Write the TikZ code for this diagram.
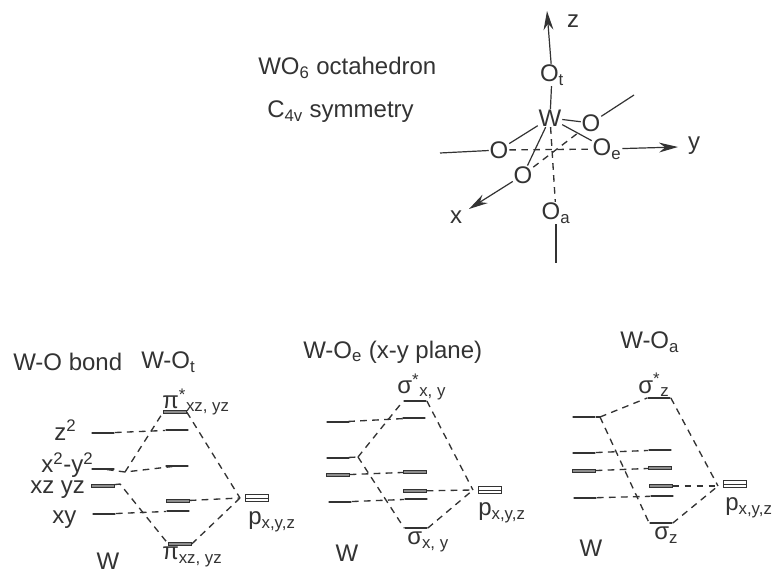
\documentclass[tikz,border=0pt]{standalone}
\usepackage{fontspec}
\setmainfont{Liberation Sans}
\usetikzlibrary{arrows.meta, positioning}

\begin{document}
\begin{tikzpicture}[
  x=0.75pt, y=-0.75pt,
  txt/.style={inner sep=0pt, font=\fontsize{18}{21}\selectfont, text=black!80},
  lbl/.style={txt, anchor=west},
  atom/.style={txt, inner sep=0.5pt},
  lvl/.style={draw=black!80, line width=0.8pt, inner sep=0pt, minimum width=17pt, minimum height=0pt},
  lvltwo/.style={lvl, minimum height=2.2pt, line width=0.6pt, fill=black!45},
  lvlthree/.style={lvl, minimum height=5.4pt, line width=0.6pt,
    path picture={\draw[line width=0.6pt] (path picture bounding box.west) -- (path picture bounding box.east);}},
  bond/.style={draw=black!80, line width=0.9pt},
  dsh/.style={draw=black!80, line width=1pt, dash pattern=on 5pt off 4pt},
  arr/.style={bond, -{Stealth[length=5mm, width=2.6mm]}}
]
  \useasboundingbox (0,0) rectangle (780,573);
  \fill[white] (0,0) rectangle (780,573);

  % octahedron
  \node[lbl] (name) at (258,68) {WO\textsubscript{6} octahedron};
  \node[lbl] (symm) at (267,112) {C\textsubscript{4v} symmetry};
  \node[atom] (W) at (550,118) {W};
  \node[atom] (Ot) at (552,75) {O\textsubscript{t}};
  \node[atom] (Oa) at (556,213) {O\textsubscript{a}};
  \node[atom] (Oe) at (607,149) {O\textsubscript{e}};
  \node[atom] (Ol) at (499,150) {O};
  \node[atom] (Of) at (523,175) {O};
  \node[atom] (Ob) at (591,123) {O};
  \node[atom] (z) at (573,21) {z};
  \node[atom] (y) at (694,146) {y};
  \node[atom] (x) at (456,217) {x};
  \coordinate (zend) at (547,11);
  \coordinate (yend) at (678,147);
  \coordinate (xend) at (469,209);
  \coordinate (lout) at (440,153);
  \coordinate (bout) at (634,95);
  \coordinate (aout) at (556,263);

  \draw[arr] (Ot) -- (zend);
  \draw[arr] (Oe) -- (yend);
  \draw[arr] (Of) -- (xend);
  \draw[bond] (Ot) -- (W);
  \draw[bond] (W) -- (Ob);
  \draw[bond] (W) -- (Oe);
  \draw[bond] (W) -- (Ol);
  \draw[bond] (W) -- (Of);
  \draw[bond] (Ol) -- (lout);
  \draw[bond] (Ob) -- (bout);
  \draw[bond] (Oa) -- (aout);
  \draw[dsh] (W) -- (Oa);
  \draw[dsh] (Ol) -- (Oe);
  \draw[dsh] (Of) -- (Ob);

  % W-O_t
  \node[lbl] (wob) at (13,362) {W-O bond};
  \node[lbl] (wot) at (141,362) {W-O\textsubscript{t}};
  \node[lvl] (az) at (103,433) {};
  \node[lvl] (ax) at (103,469) {};
  \node[lvltwo] (ad) at (103,486) {};
  \node[lvl] (ay) at (104,514) {};
  \node[lvltwo] (apu) at (175,412) {};
  \node[lvl] (bz) at (177,430) {};
  \node[lvl] (bx) at (177,466) {};
  \node[lvltwo] (bd) at (178,501) {};
  \node[lvl] (by) at (178,511) {};
  \node[lvltwo] (apl) at (180,544) {};
  \node[lvlthree] (ap) at (257,498) {};
  \coordinate (aju) at (125,472);
  \coordinate (ajl) at (120,484);
  \coordinate (ajp) at (240,498);
  \draw[dsh] (az) -- (bz);
  \draw[dsh] (ax) -- (aju) -- (bx);
  \draw[dsh] (aju) -- (apu.west);
  \draw[dsh] (ad) -- (ajl) -- (apl.west);
  \draw[dsh] (ay) -- (by);
  \draw[dsh] (apu.east) -- (ajp);
  \draw[dsh] (apl.east) -- (ajp);
  \draw[dsh] (bd) -- (ajp);
  \node[lbl] (tz) at (54,430) {z\textsuperscript{2}};
  \node[lbl] (tx) at (41,465) {x\textsuperscript{2}-y\textsuperscript{2}};
  \node[lbl] (td) at (30,490) {xz yz};
  \node[lbl] (ty) at (52,520) {xy};
  \node[atom] (aw) at (108,561) {W};
  \node[lbl] (apt) at (162,402) {π\textsuperscript{*}\textsubscript{xz, yz}};
  \node[lbl] (apb) at (162,557) {π\textsubscript{xz, yz}};
  \node[lbl] (app) at (248,522) {p\textsubscript{x,y,z}};

  % W-O_e
  \node[lbl] (woe) at (303,352) {W-O\textsubscript{e} (x-y plane)};
  \node[lvl] (ca) at (338,422) {};
  \node[lvl] (cb) at (338,458) {};
  \node[lvltwo] (cc) at (338,475) {};
  \node[lvl] (cd) at (340,502) {};
  \node[lvl] (ds) at (415,401) {};
  \node[lvl] (da) at (414,418) {};
  \node[lvltwo] (dc) at (415,472) {};
  \node[lvltwo] (dp) at (415,491) {};
  \node[lvl] (dd) at (416,499) {};
  \node[lvl] (dl) at (416,528) {};
  \node[lvlthree] (cp) at (490,490) {};
  \coordinate (cju) at (358,457);
  \coordinate (cjp) at (473,490);
  \draw[dsh] (ca) -- (da);
  \draw[dsh] (cb) -- (cju);
  \draw[dsh] (cju) -- (ds.west);
  \draw[dsh] (cju) -- (dl.west);
  \draw[dsh] (cc) -- (dc);
  \draw[dsh] (cd) -- (dd);
  \draw[dsh] (ds.east) -- (cjp);
  \draw[dsh] (dl.east) -- (cjp);
  \draw[dsh] (dp) -- (cjp);
  \node[lbl] (cst) at (397,387) {σ\textsuperscript{*}\textsubscript{x, y}};
  \node[lbl] (csb) at (407,542) {σ\textsubscript{x, y}};
  \node[lbl] (cpp) at (478,513) {p\textsubscript{x,y,z}};
  \node[atom] (cw) at (347,553) {W};

  % W-O_a
  \node[lbl] (woa) at (620,342) {W-O\textsubscript{a}};
  \node[lvl] (ea) at (584,417) {};
  \node[lvl] (eb) at (584,453) {};
  \node[lvltwo] (ec) at (584,471) {};
  \node[lvl] (ed) at (585,498) {};
  \node[lvl] (fs) at (659,398) {};
  \node[lvl] (fb) at (660,450) {};
  \node[lvltwo] (fc) at (660,468) {};
  \node[lvltwo] (fp) at (661,486) {};
  \node[lvl] (fd) at (662,496) {};
  \node[lvl] (fl) at (661,523) {};
  \node[lvlthree] (ep) at (735,484) {};
  \coordinate (eju) at (600,417);
  \coordinate (ejp) at (718,486);
  \draw[dsh] (ea) -- (eju);
  \draw[dsh] (eju) -- (fs.west);
  \draw[dsh] (eju) -- (fl.west);
  \draw[dsh] (eb) -- (fb);
  \draw[dsh] (ec) -- (fc);
  \draw[dsh] (ed) -- (fd);
  \draw[dsh] (fs.east) -- (ejp);
  \draw[dsh] (fl.east) -- (ejp);
  \draw[dsh] (fp) -- (ejp);
  \node[lbl] (est) at (638,385) {σ\textsuperscript{*}\textsubscript{z}};
  \node[lbl] (esb) at (654,535) {σ\textsubscript{z}};
  \node[lbl] (epp) at (725,508) {p\textsubscript{x,y,z}};
  \node[atom] (ew) at (591,548) {W};
\end{tikzpicture}
\end{document}
